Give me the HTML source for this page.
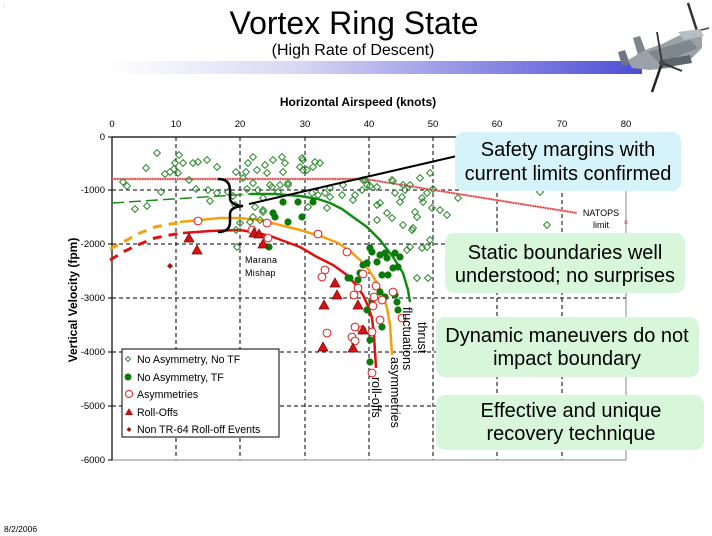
<!DOCTYPE html>
<html><head><meta charset="utf-8"><style>
html,body{margin:0;padding:0;background:#fff;}
svg{display:block;font-family:"Liberation Sans",Arial,sans-serif;}
</style></head><body>
<svg width="712" height="536" viewBox="0 0 712 536" xmlns="http://www.w3.org/2000/svg">
<defs>
<linearGradient id="bar" x1="0" y1="0" x2="1" y2="0">
<stop offset="0" stop-color="#ffffff"/>
<stop offset="0.35" stop-color="#d8d8f4"/>
<stop offset="1" stop-color="#4d4dd6"/>
</linearGradient>
<path id="dg" d="M0,-3.4 L3.4,0 L0,3.4 L-3.4,0Z" fill="none" stroke="#2a8a2a" stroke-width="1"/>
<circle id="cg" r="3.6" fill="#0a7a0a"/>
<circle id="cr" r="3.9" fill="#fff" stroke="#e02020" stroke-width="1"/>
<path id="tr" d="M0,-5 L5,4 L-5,4Z" fill="#d41414" stroke="#7a0000" stroke-width="0.7"/>
</defs>
<rect width="712" height="536" fill="#fff"/>
<text x="3" y="7" font-size="6" fill="#666">.</text>

<!-- title -->
<rect x="108" y="61" width="534" height="13" fill="url(#bar)"/>
<text x="354" y="34" font-size="32" text-anchor="middle" fill="#000">Vortex Ring State</text>
<text x="353" y="55" font-size="16" text-anchor="middle" fill="#000">(High Rate of Descent)</text>

<!-- aircraft -->
<g>
<line x1="688" y1="3" x2="697" y2="31" stroke="#333" stroke-width="2.5"/>
<line x1="697" y1="31" x2="709" y2="28" stroke="#444" stroke-width="1.6"/>
<line x1="697" y1="31" x2="694" y2="44" stroke="#444" stroke-width="1.6"/>
<polygon points="633,38 640,36 646,52 638,55" fill="#7d868c"/>
<polygon points="618,52 625,50 630,64 622,66" fill="#6f787e"/>
<polygon points="628,60 645,50 662,44 678,36 694,31 702,35 702,48 690,60 670,68 650,70 632,68" fill="#9aa2a8"/>
<polygon points="678,32 700,29 704,36 684,40" fill="#b7bec2"/>
<polygon points="648,52 690,40 698,48 660,64" fill="#7e878d"/>
<polygon points="660,60 690,55 692,63 662,68" fill="#5d666b"/>
<line x1="657" y1="32" x2="662" y2="63" stroke="#333" stroke-width="1.8"/>
<line x1="662" y1="63" x2="652" y2="92" stroke="#222" stroke-width="2.5"/>
<line x1="662" y1="63" x2="682" y2="71" stroke="#333" stroke-width="2"/>
<circle cx="662" cy="63" r="3" fill="#444"/>
</g>

<!-- grid -->
<g stroke="#000" stroke-width="1" stroke-dasharray="4 3">
<line x1="176" y1="137" x2="176" y2="460"/>
<line x1="240" y1="137" x2="240" y2="460"/>
<line x1="305" y1="137" x2="305" y2="460"/>
<line x1="369" y1="137" x2="369" y2="460"/>
<line x1="433" y1="137" x2="433" y2="460"/>
<line x1="497" y1="137" x2="497" y2="460"/>
<line x1="562" y1="137" x2="562" y2="460"/>
<line x1="112" y1="190" x2="626" y2="190"/>
<line x1="112" y1="244" x2="626" y2="244"/>
<line x1="112" y1="298" x2="626" y2="298"/>
<line x1="112" y1="352" x2="626" y2="352"/>
<line x1="112" y1="406" x2="626" y2="406"/>
</g>
<line x1="626" y1="137" x2="626" y2="460" stroke="#888" stroke-width="1"/>
<line x1="112" y1="460" x2="626" y2="460" stroke="#888" stroke-width="1"/>
<line x1="112" y1="137" x2="626" y2="137" stroke="#000" stroke-width="1.2"/>
<line x1="112" y1="137" x2="112" y2="460" stroke="#000" stroke-width="1.2"/>
<g stroke="#000" stroke-width="1">
<line x1="108" y1="137" x2="112" y2="137"/><line x1="108" y1="190" x2="112" y2="190"/>
<line x1="108" y1="244" x2="112" y2="244"/><line x1="108" y1="298" x2="112" y2="298"/>
<line x1="108" y1="352" x2="112" y2="352"/><line x1="108" y1="406" x2="112" y2="406"/>
<line x1="108" y1="460" x2="112" y2="460"/>
</g>

<!-- axis labels -->
<g font-size="9.5" fill="#000" text-anchor="middle">
<text x="112" y="127">0</text><text x="176" y="127">10</text><text x="240" y="127">20</text>
<text x="305" y="127">30</text><text x="369" y="127">40</text><text x="433" y="127">50</text>
<text x="497" y="127">60</text><text x="562" y="127">70</text><text x="626" y="127">80</text>
</g>
<g font-size="9.5" fill="#000" text-anchor="end">
<text x="105" y="140">0</text><text x="105" y="193">-1000</text><text x="105" y="247">-2000</text>
<text x="105" y="301">-3000</text><text x="105" y="355">-4000</text><text x="105" y="409">-5000</text>
<text x="105" y="463">-6000</text>
</g>
<text x="358" y="106" font-size="12" font-weight="bold" text-anchor="middle">Horizontal Airspeed (knots)</text>
<text transform="translate(77,300) rotate(-90)" font-size="12" font-weight="bold" text-anchor="middle">Vertical Velocity (fpm)</text>

<!-- NATOPS line -->
<polyline points="112,179 365,179 577,213" fill="none" stroke="#f2a8a8" stroke-width="2.4"/>
<polyline points="112,179 365,179 577,213" fill="none" stroke="#d42020" stroke-width="1.2" stroke-dasharray="1.5 1"/>
<text x="601" y="216" font-size="9" text-anchor="middle">NATOPS</text>
<text x="601" y="228" font-size="9" text-anchor="middle">limit</text>
<text x="626" y="225" font-size="8" fill="#e03030" text-anchor="middle">×</text>

<!-- boundary curves -->
<polyline points="112,203 250,194" fill="none" stroke="#1e8a1e" stroke-width="1.5" stroke-dasharray="12 5"/>
<polyline points="250,194 275,194 300,196 318,199 330,203 342,209 353,217 367,227 380,240 393,257 403,273 408,290 410,302" fill="none" stroke="#138a13" stroke-width="2.5" stroke-linejoin="round"/>
<polyline points="110,249 125,241 140,233 155,227 170,224 180,223" fill="none" stroke="#f5a010" stroke-width="3" stroke-dasharray="9 7"/>
<polyline points="180,222 200,220 220,218 240,218 260,220 280,225 300,230 323,237 338,243 350,251 360,260 369,270 377,283 383,295 387,308 390,325 391,340 392,355" fill="none" stroke="#f5a010" stroke-width="2.5" stroke-linejoin="round"/>
<polyline points="110,260 125,251 140,244 155,238 170,235 182,233" fill="none" stroke="#e01010" stroke-width="3" stroke-dasharray="9 7"/>
<polyline points="183,233 210,231 240,230 258,233 273,237 300,247 317,257 333,265 347,275 356,285 363,295 368,306 372,318 374,335 375,352 376,368" fill="none" stroke="#e01010" stroke-width="2.5" stroke-linejoin="round"/>

<!-- open green diamonds -->
<g>
<use href="#dg" x="157" y="153"/><use href="#dg" x="179" y="155"/><use href="#dg" x="175" y="163"/><use href="#dg" x="183" y="163"/>
<use href="#dg" x="146" y="168"/><use href="#dg" x="198" y="162"/><use href="#dg" x="193" y="163"/><use href="#dg" x="207" y="160"/>
<use href="#dg" x="217" y="167"/><use href="#dg" x="165" y="174"/><use href="#dg" x="170" y="172"/><use href="#dg" x="174" y="169"/>
<use href="#dg" x="178" y="173"/><use href="#dg" x="189" y="180"/><use href="#dg" x="123" y="182"/><use href="#dg" x="127" y="186"/>
<use href="#dg" x="161" y="192"/><use href="#dg" x="196" y="189"/><use href="#dg" x="208" y="190"/><use href="#dg" x="217" y="193"/>
<use href="#dg" x="228" y="192"/><use href="#dg" x="210" y="201"/><use href="#dg" x="135" y="209"/><use href="#dg" x="147" y="206"/>
<use href="#dg" x="236" y="172"/><use href="#dg" x="248" y="163"/><use href="#dg" x="253" y="157"/><use href="#dg" x="265" y="165"/>
<use href="#dg" x="273" y="160"/><use href="#dg" x="282" y="157"/><use href="#dg" x="285" y="163"/><use href="#dg" x="267" y="173"/>
<use href="#dg" x="283" y="172"/><use href="#dg" x="246" y="172"/><use href="#dg" x="257" y="170"/><use href="#dg" x="243" y="178"/>
<use href="#dg" x="253" y="183"/><use href="#dg" x="258" y="190"/><use href="#dg" x="247" y="189"/><use href="#dg" x="270" y="185"/>
<use href="#dg" x="280" y="185"/><use href="#dg" x="288" y="185"/><use href="#dg" x="278" y="192"/><use href="#dg" x="263" y="198"/>
<use href="#dg" x="255" y="207"/><use href="#dg" x="263" y="210"/><use href="#dg" x="236" y="230"/><use href="#dg" x="237" y="247"/>
<use href="#dg" x="250" y="222"/><use href="#dg" x="260" y="220"/><use href="#dg" x="240" y="223"/>
<use href="#dg" x="302" y="158"/><use href="#dg" x="300" y="167"/><use href="#dg" x="315" y="162"/><use href="#dg" x="320" y="163"/>
<use href="#dg" x="313" y="167"/><use href="#dg" x="303" y="170"/><use href="#dg" x="288" y="183"/><use href="#dg" x="272" y="187"/>
<use href="#dg" x="330" y="188"/><use href="#dg" x="312" y="193"/><use href="#dg" x="318" y="195"/><use href="#dg" x="325" y="193"/>
<use href="#dg" x="330" y="197"/><use href="#dg" x="343" y="185"/><use href="#dg" x="355" y="195"/><use href="#dg" x="353" y="200"/>
<use href="#dg" x="365" y="180"/><use href="#dg" x="367" y="185"/><use href="#dg" x="380" y="203"/><use href="#dg" x="392" y="180"/>
<use href="#dg" x="403" y="185"/><use href="#dg" x="410" y="185"/><use href="#dg" x="405" y="190"/><use href="#dg" x="395" y="193"/>
<use href="#dg" x="402" y="197"/><use href="#dg" x="400" y="202"/><use href="#dg" x="377" y="205"/><use href="#dg" x="387" y="213"/>
<use href="#dg" x="392" y="218"/><use href="#dg" x="377" y="220"/><use href="#dg" x="403" y="225"/><use href="#dg" x="412" y="230"/>
<use href="#dg" x="415" y="212"/><use href="#dg" x="422" y="198"/><use href="#dg" x="423" y="202"/><use href="#dg" x="413" y="228"/>
<use href="#dg" x="327" y="208"/><use href="#dg" x="308" y="207"/><use href="#dg" x="263" y="212"/><use href="#dg" x="253" y="217"/>
<use href="#dg" x="410" y="247"/><use href="#dg" x="407" y="250"/><use href="#dg" x="342" y="195"/><use href="#dg" x="362" y="190"/>
<use href="#dg" x="430" y="173"/><use href="#dg" x="420" y="178"/><use href="#dg" x="433" y="189"/><use href="#dg" x="427" y="193"/>
<use href="#dg" x="458" y="198"/><use href="#dg" x="432" y="208"/><use href="#dg" x="440" y="210"/><use href="#dg" x="447" y="215"/>
<use href="#dg" x="417" y="217"/><use href="#dg" x="430" y="240"/><use href="#dg" x="427" y="247"/><use href="#dg" x="422" y="248"/>
<use href="#dg" x="417" y="278"/><use href="#dg" x="428" y="278"/><use href="#dg" x="303" y="160"/><use href="#dg" x="307" y="170"/>
<use href="#dg" x="363" y="180"/><use href="#dg" x="370" y="186"/><use href="#dg" x="377" y="187"/><use href="#dg" x="393" y="181"/>
<use href="#dg" x="540" y="192"/><use href="#dg" x="547" y="225"/><use href="#dg" x="235" y="205"/><use href="#dg" x="233" y="196"/>
</g>

<!-- filled green circles -->
<g>
<use href="#cg" x="283" y="202"/><use href="#cg" x="298" y="202"/><use href="#cg" x="273" y="213"/><use href="#cg" x="275" y="217"/>
<use href="#cg" x="288" y="222"/><use href="#cg" x="302" y="217"/><use href="#cg" x="269" y="247"/><use href="#cg" x="313" y="202"/>
<use href="#cg" x="370" y="248"/><use href="#cg" x="372" y="252"/><use href="#cg" x="380" y="255"/><use href="#cg" x="385" y="253"/>
<use href="#cg" x="395" y="253"/><use href="#cg" x="400" y="257"/><use href="#cg" x="363" y="265"/><use href="#cg" x="367" y="263"/>
<use href="#cg" x="393" y="268"/><use href="#cg" x="398" y="267"/><use href="#cg" x="382" y="275"/><use href="#cg" x="388" y="275"/>
<use href="#cg" x="350" y="278"/><use href="#cg" x="360" y="273"/><use href="#cg" x="358" y="280"/><use href="#cg" x="380" y="292"/>
<use href="#cg" x="385" y="297"/><use href="#cg" x="372" y="303"/><use href="#cg" x="367" y="310"/><use href="#cg" x="398" y="310"/>
<use href="#cg" x="382" y="327"/><use href="#cg" x="370" y="340"/><use href="#cg" x="370" y="362"/><use href="#cg" x="397" y="302"/>
<use href="#cg" x="387" y="258"/><use href="#cg" x="377" y="262"/><use href="#cg" x="395" y="295"/><use href="#cg" x="348" y="278"/>
</g>

<!-- open red circles -->
<g>
<use href="#cr" x="198" y="221"/><use href="#cr" x="252" y="230"/><use href="#cr" x="267" y="223"/><use href="#cr" x="268" y="238"/>
<use href="#cr" x="318" y="234"/><use href="#cr" x="347" y="252"/><use href="#cr" x="325" y="270"/><use href="#cr" x="322" y="277"/>
<use href="#cr" x="363" y="274"/><use href="#cr" x="376" y="286"/><use href="#cr" x="393" y="292"/><use href="#cr" x="354" y="295"/>
<use href="#cr" x="374" y="297"/><use href="#cr" x="358" y="288"/><use href="#cr" x="382" y="300"/><use href="#cr" x="373" y="306"/>
<use href="#cr" x="402" y="318"/><use href="#cr" x="380" y="320"/><use href="#cr" x="355" y="327"/><use href="#cr" x="362" y="330"/>
<use href="#cr" x="352" y="337"/><use href="#cr" x="355" y="341"/><use href="#cr" x="327" y="333"/><use href="#cr" x="372" y="332"/>
<use href="#cr" x="372" y="373"/>
</g>

<!-- red triangles -->
<g>
<use href="#tr" x="189" y="238"/><use href="#tr" x="197" y="250"/><use href="#tr" x="254" y="233"/><use href="#tr" x="259" y="234"/>
<use href="#tr" x="263" y="244"/><use href="#tr" x="335" y="283"/><use href="#tr" x="337" y="295"/><use href="#tr" x="324" y="305"/>
<use href="#tr" x="358" y="305"/><use href="#tr" x="363" y="330"/><use href="#tr" x="323" y="347"/><use href="#tr" x="353" y="348"/>
</g>
<path d="M170,263 L173,266 L170,269 L167,266Z" fill="#a01414"/>

<!-- Marana -->
<text x="245" y="263" font-size="9" letter-spacing="0.3">Marana</text>
<text x="245" y="276" font-size="9" letter-spacing="0.3">Mishap</text>

<!-- rotated labels -->
<g font-size="12.5" fill="#000">
<text transform="translate(372,377) rotate(90)">roll-offs</text>
<text transform="translate(391,357) rotate(90)">asymmetries</text>
<text transform="translate(403,307) rotate(90)">fluctuations</text>
<text transform="translate(418,322) rotate(90)">thrust</text>
</g>

<!-- brace and pointer -->
<path d="M218,179 Q230,179 230,190 L230,198 Q230,205 243,206 Q230,207 230,214 L230,222 Q230,232 218,232" fill="none" stroke="#000" stroke-width="2.5"/>
<line x1="249" y1="204" x2="457" y2="156" stroke="#000" stroke-width="2"/>

<!-- legend -->
<rect x="122" y="349" width="157" height="88" fill="#fff" stroke="#000" stroke-width="1"/>
<path d="M128,356.5 L130.5,359 L128,361.5 L125.5,359Z" fill="none" stroke="#2a8a2a" stroke-width="1"/>
<circle cx="128" cy="377" r="3.5" fill="#0a7a0a"/>
<circle cx="129" cy="394" r="3.5" fill="#fff" stroke="#e02020" stroke-width="1"/>
<path d="M129,408 L133,415 L125,415Z" fill="#c01010"/>
<path d="M129,427 L131.5,429.5 L129,432 L126.5,429.5Z" fill="#a01414"/>
<g font-size="10.6" fill="#000">
<text x="137" y="363">No Asymmetry, No TF</text>
<text x="137" y="381">No Asymmetry, TF</text>
<text x="137" y="398">Asymmetries</text>
<text x="137" y="416">Roll-Offs</text>
<text x="137" y="433">Non TR-64 Roll-off Events</text>
</g>

<!-- callout boxes -->
<rect x="455" y="132" width="226" height="59" rx="9" fill="#d6f3fa"/>
<rect x="445" y="233" width="240" height="60" rx="9" fill="#d8f7da"/>
<rect x="436" y="317" width="263" height="60" rx="9" fill="#d8f7da"/>
<rect x="436" y="395" width="268" height="55" rx="9" fill="#d8f7da"/>
<g font-size="20" fill="#000" text-anchor="middle">
<text x="568" y="156">Safety margins with</text>
<text x="568" y="180">current limits confirmed</text>
<text x="565" y="259">Static boundaries well</text>
<text x="565" y="282">understood; no surprises</text>
<text x="567" y="342">Dynamic maneuvers do not</text>
<text x="567" y="365">impact boundary</text>
<text x="571" y="417">Effective and unique</text>
<text x="571" y="440">recovery technique</text>
</g>

<text x="4" y="532" font-size="8.5" fill="#000">8/2/2006</text>
</svg>
</body></html>
